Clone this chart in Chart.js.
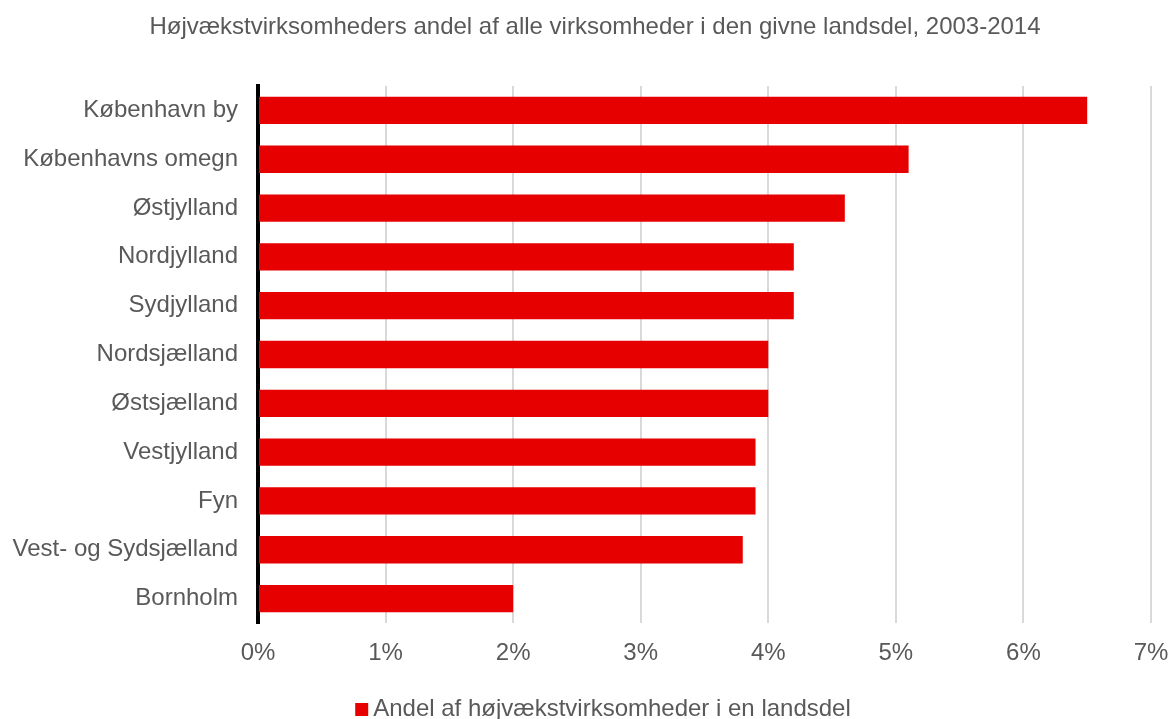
<!DOCTYPE html>
<html>
<head>
    <meta charset="utf-8">
    <title>Højvækstvirksomheder</title>
    <style>
        body { margin: 0; overflow: hidden; background: #fff; }
        #wrap { width: 1170px; height: 719px; }
    </style>
</head>
<body>
    <div id="wrap">
        <canvas id="chart" width="1170" height="719"></canvas>
    </div>

    <script src="https://cdn.jsdelivr.net/npm/chart.js"></script>
    <script>
        var regions = ['København by', 'Københavns omegn', 'Østjylland', 'Nordjylland', 'Sydjylland',
            'Nordsjælland', 'Østsjælland', 'Vestjylland', 'Fyn', 'Vest- og Sydsjælland', 'Bornholm'];
        var shares = [6.5, 5.1, 4.6, 4.2, 4.2, 4.0, 4.0, 3.9, 3.9, 3.8, 2.0];
        var tickMin = 0;
        var tickMax = 7;
        var seriesLabel = 'Andel af højvækstvirksomheder i en landsdel';
        var titleText = 'Højvækstvirksomheders andel af alle virksomheder i den givne landsdel, 2003-2014';

        var grey = '#595959';
        var red = '#e60000';
        var font = "'Liberation Sans', Arial, sans-serif";

        // title and legend sit a bit right of the canvas centre, so draw them by hand
        var titleLegend = {
            id: 'titleLegend',
            afterDraw: function(chart) {
                var c = chart.ctx;
                c.save();
                c.fillStyle = grey;
                c.textBaseline = 'middle';
                c.textAlign = 'center';
                c.font = '24px ' + font;
                c.fillText(titleText, 595, 27);

                c.textAlign = 'left';
                c.font = '24px ' + font;
                var w = c.measureText(seriesLabel).width;
                var x0 = 603 - (w + 18) / 2;
                c.fillStyle = red;
                c.fillRect(x0, 703, 13, 13);
                c.fillStyle = grey;
                c.fillText(chart.data.datasets[0].label, x0 + 18, 709);
                c.restore();
            }
        };

        var ctx = document.getElementById('chart').getContext('2d');
        var chart = new Chart(ctx, {
            type: 'bar',
            data: {
                labels: regions,
                datasets: [{
                    label: seriesLabel,
                    data: shares,
                    backgroundColor: red,
                    borderWidth: 0,
                    categoryPercentage: 0.56,
                    barPercentage: 1
                }]
            },
            options: {
                indexAxis: 'y',
                responsive: false,
                animation: false,
                layout: { padding: { left: 0, right: 0, top: 86, bottom: 33 } },
                plugins: {
                    title: { display: false },
                    legend: { display: false },
                    tooltip: { enabled: false }
                },
                scales: {
                    x: {
                        min: tickMin,
                        max: tickMax,
                        ticks: {
                            stepSize: 1,
                            color: grey,
                            font: { family: font, size: 24 },
                            padding: 16,
                            callback: function(v) { return v + '%'; }
                        },
                        grid: { color: '#d9d9d9', lineWidth: 2, drawTicks: false },
                        border: { display: false },
                        afterFit: function(s) { s.height = 63; s.paddingRight = 19; }
                    },
                    y: {
                        ticks: {
                            color: grey,
                            font: { family: font, size: 24 },
                            padding: 20
                        },
                        grid: { display: false, drawTicks: false },
                        border: { display: true, color: '#000', width: 4 },
                        afterFit: function(s) { s.width = 258; }
                    }
                }
            },
            plugins: [titleLegend]
        });
    </script>
</body>
</html>
